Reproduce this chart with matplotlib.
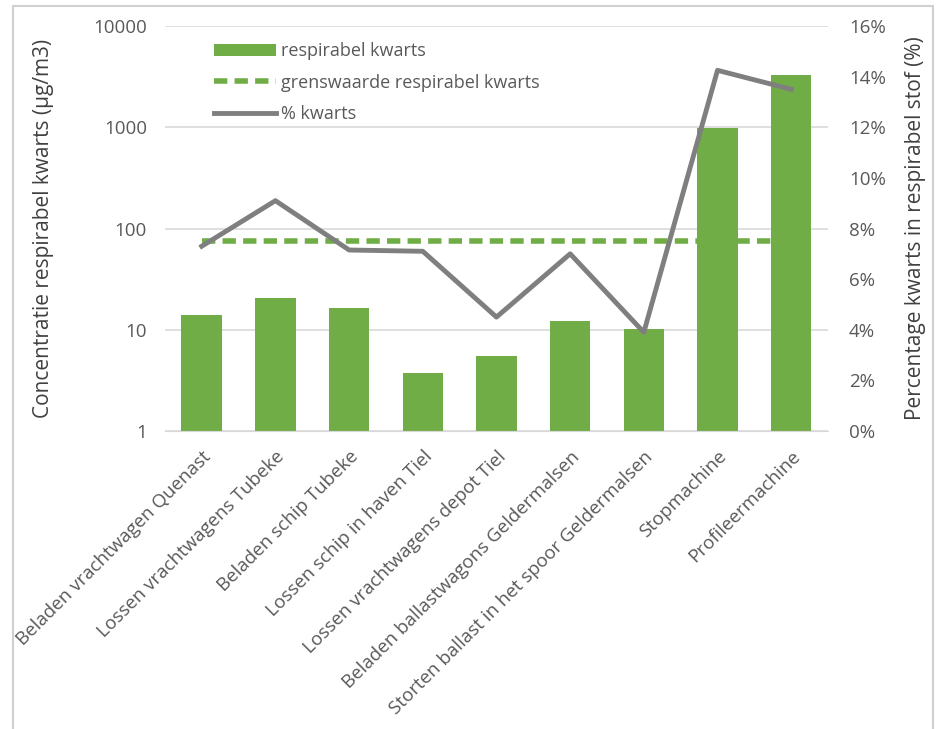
import matplotlib
matplotlib.use('Agg')
import matplotlib.pyplot as plt
from matplotlib.patches import Rectangle
from matplotlib.ticker import FixedLocator, FuncFormatter
import numpy as np

# data
categories = ['Beladen vrachtwagen Quenast', 'Lossen vrachtwagens Tubeke',
              'Beladen schip Tubeke', 'Lossen schip in haven Tiel',
              'Lossen vrachtwagens depot Tiel', 'Beladen ballastwagons Geldermalsen',
              'Storten ballast in het spoor Geldermalsen', 'Stopmachine',
              'Profileermachine']
kwarts_conc = [13.9, 20.6, 16.3, 3.7, 5.5, 12.3, 10.2, 990, 3270]   # ug/m3
grenswaarde = [75] * 9                                              # ug/m3
pct_kwarts = [7.3, 9.1, 7.15, 7.1, 4.5, 7.0, 3.9, 14.25, 13.5]       # %

green = '#70ad47'
grey = '#7f7f7f'
txt = '#595959'

plt.rcParams['font.family'] = ['Open Sans', 'DejaVu Sans']

fig = plt.figure(figsize=(9.37, 7.29), dpi=100)
ax1 = fig.add_axes([0.176, 0.4088, 0.7077, 0.5555])
ax2 = ax1.twinx()

x = np.arange(len(categories))
b = ax1.bar(x, kwarts_conc, width=0.55, color=green, zorder=2, label='respirabel kwarts')
d, = ax1.plot(x, grenswaarde, color=green, lw=4, ls=(0, (2.4, 1.3)), zorder=3,
              label='grenswaarde respirabel kwarts')
l, = ax2.plot(x, pct_kwarts, color=grey, lw=3.5, zorder=4, label='% kwarts')

ax1.set_yscale('log')
ax1.set_ylim(1, 10000)
ax1.yaxis.set_major_locator(FixedLocator([1, 10, 100, 1000, 10000]))
ax1.yaxis.set_minor_locator(FixedLocator([]))
ax1.yaxis.set_major_formatter(FuncFormatter(lambda v, p: '%d' % v))
ax1.set_xlim(-0.5, len(categories) - 0.5)
ax1.grid(axis='y', color='#d9d9d9', lw=1.2, zorder=0)
ax1.set_axisbelow(True)

ax2.set_ylim(0, 16)
ax2.set_yticks(np.arange(0, 17, 2))
ax2.yaxis.set_major_formatter(FuncFormatter(lambda v, p: '%d%%' % v))

for a in (ax1, ax2):
    for s in a.spines.values():
        s.set_visible(False)
    a.tick_params(length=0, labelsize=13.5, colors=txt)
ax1.spines['bottom'].set_visible(True)
ax1.spines['bottom'].set_color('#d9d9d9')
ax1.tick_params(axis='y', pad=13)
ax2.tick_params(axis='y', pad=15)

ax1.set_xticks(x)
ax1.set_xticklabels(categories, rotation=45, ha='right', rotation_mode='anchor',
                    fontsize=13.5, color=txt)
ax1.tick_params(axis='x', pad=12)

ax1.set_ylabel('Concentratie respirabel kwarts (µg/m3)', fontsize=15, color='#404040', labelpad=28)
ax2.set_ylabel('Percentage kwarts in respirabel stof (%)', fontsize=15, color='#404040', labelpad=14)

ax1.legend(handles=[b, d, l], loc='upper left', bbox_to_anchor=(0.05, 1.0), frameon=False,
           fontsize=13, labelcolor=txt, handlelength=3.4, handletextpad=0.3,
           labelspacing=0.75)

fig.patches.append(Rectangle((13 / 937, -0.01), 920 / 937, 1 - 6 / 729 + 0.01,
                             transform=fig.transFigure, fill=False,
                             edgecolor='#d0d0d0', lw=1.5))

plt.savefig('out.png', dpi=100)
